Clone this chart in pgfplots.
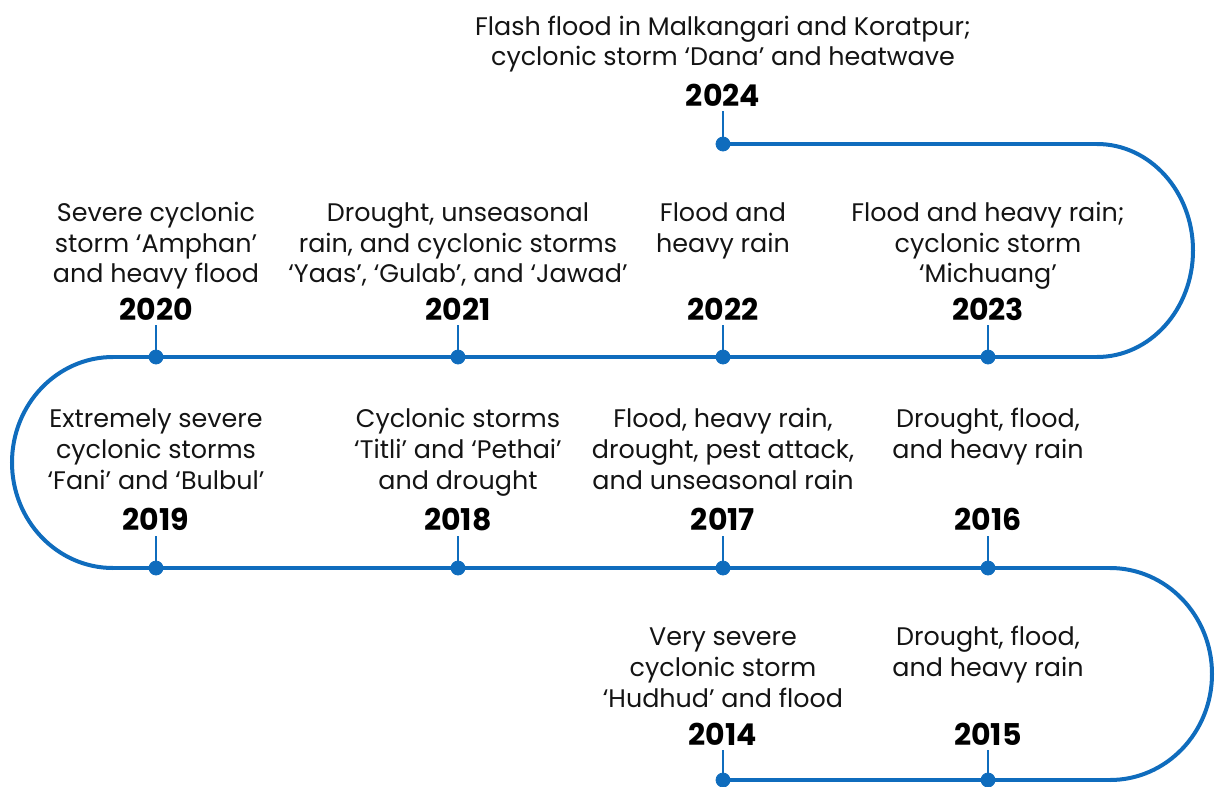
\documentclass[border=0pt]{standalone}
\usepackage{pgfplots}
\pgfplotsset{compat=1.18}
\usepackage{fontspec}
\setmainfont{Poppins}
\definecolor{tlblue}{HTML}{0F6CBD}
\definecolor{txt}{HTML}{141414}
\newcommand\ds{\fontsize{12.7pt}{14pt}\selectfont}
\newcommand\ys{\fontsize{15pt}{17pt}\selectfont\bfseries}
\newcommand\tl[3]{\node[anchor=base,inner sep=0pt,text=txt,font=\ds] at (axis cs:#1,#2) {#3};}
\newcommand\yr[3]{\node[anchor=base,inner sep=0pt,text=black,font=\ys] at (axis cs:#1,#2) {#3};}
\begin{document}
\begin{tikzpicture}
\begin{axis}[
  width=608pt, height=393.5pt, scale only axis,
  xmin=0, xmax=1216, ymin=0, ymax=787, y dir=reverse,
  hide axis, clip=false, unbounded coords=jump]
\path (rel axis cs:0,0) rectangle (rel axis cs:1,1);
% main path: straight segments
\addplot[tlblue, line width=2pt, line cap=round] coordinates {
 (723,144) (1097,144) (nan,nan)
 (1097,357) (113,357) (nan,nan)
 (113,568) (1110,568) (nan,nan)
 (1110,780) (723,780)};
% curved turns
\draw[tlblue, line width=2pt] (axis cs:1097,144) arc[start angle=90, end angle=-90, x radius=48pt, y radius=53.25pt];
\draw[tlblue, line width=2pt] (axis cs:113,357) arc[start angle=90, end angle=270, x radius=50.5pt, y radius=52.75pt];
\draw[tlblue, line width=2pt] (axis cs:1110,568) arc[start angle=90, end angle=-90, x radius=51pt, y radius=53pt];
% stems
\addplot[tlblue, line width=1pt] coordinates {
 (723,144) (723,111) (nan,nan)
 (156,357) (156,325) (nan,nan)
 (458,357) (458,325) (nan,nan)
 (723,357) (723,325) (nan,nan)
 (988,357) (988,325) (nan,nan)
 (156,568) (156,536) (nan,nan)
 (458,568) (458,536) (nan,nan)
 (723,568) (723,536) (nan,nan)
 (988,568) (988,536) (nan,nan)
 (723,780) (723,750) (nan,nan)
 (988,780) (988,750)};
% dots
\addplot[only marks, mark=*, mark size=3.5pt, tlblue, mark options={draw=tlblue, fill=tlblue}] coordinates {
 (723,144) (156,357) (458,357) (723,357) (988,357)
 (156,568) (458,568) (723,568) (988,568) (723,780) (988,780)};
% 2024
\tl{723}{35}{Flash flood in Malkangari and Koratpur;}
\tl{723}{65}{cyclonic storm ‘Dana’ and heatwave}
\yr{723}{106}{2024}
% row 2
\tl{156}{221}{Severe cyclonic}
\tl{156}{252}{storm ‘Amphan’}
\tl{156}{282}{and heavy flood}
\yr{156}{320}{2020}
\tl{458}{221}{Drought, unseasonal}
\tl{458}{252}{rain, and cyclonic storms}
\tl{458}{282}{‘Yaas’, ‘Gulab’, and ‘Jawad’}
\yr{458}{320}{2021}
\tl{723}{221}{Flood and}
\tl{723}{252}{heavy rain}
\yr{723}{320}{2022}
\tl{988}{221}{Flood and heavy rain;}
\tl{988}{252}{cyclonic storm}
\tl{988}{282}{‘Michuang’}
\yr{988}{320}{2023}
% row 3
\tl{156}{427}{Extremely severe}
\tl{156}{458}{cyclonic storms}
\tl{156}{489}{‘Fani’ and ‘Bulbul’}
\yr{156}{530}{2019}
\tl{458}{427}{Cyclonic storms}
\tl{458}{458}{‘Titli’ and ‘Pethai’}
\tl{458}{489}{and drought}
\yr{458}{530}{2018}
\tl{723}{427}{Flood, heavy rain,}
\tl{723}{458}{drought, pest attack,}
\tl{723}{489}{and unseasonal rain}
\yr{723}{530}{2017}
\tl{988}{427}{Drought, flood,}
\tl{988}{458}{and heavy rain}
\yr{988}{530}{2016}
% row 4
\tl{723}{645}{Very severe}
\tl{723}{676}{cyclonic storm}
\tl{723}{707}{‘Hudhud’ and flood}
\yr{723}{745}{2014}
\tl{988}{645}{Drought, flood,}
\tl{988}{676}{and heavy rain}
\yr{988}{745}{2015}
\end{axis}
\end{tikzpicture}
\end{document}
